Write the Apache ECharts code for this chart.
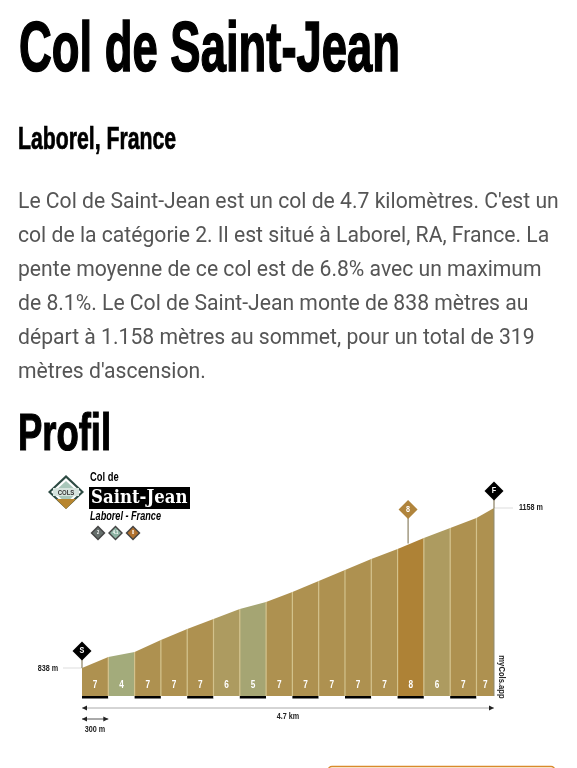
<!DOCTYPE html>
<html><head><meta charset="utf-8">
<style>html,body{margin:0;padding:0;background:#fff}#c{width:577px;height:768px}</style>
<script src="https://cdn.jsdelivr.net/npm/echarts@6/dist/echarts.min.js"></script></head>
<body><div id="c"></div>
<script>
const pageTitle = "Col de Saint-Jean";
const subTitle = "Laborel, France";
const bodyLines = [
 "Le Col de Saint-Jean est un col de 4.7 kilomètres. C'est un",
 "col de la catégorie 2. Il est situé à Laborel, RA, France. La",
 "pente moyenne de ce col est de 6.8% avec un maximum",
 "de 8.1%. Le Col de Saint-Jean monte de 838 mètres au",
 "départ à 1.158 mètres au sommet, pour un total de 319",
 "mètres d'ascension."
];
const profileTitle = "Profil";
const kmMarks = [0,0.3,0.6,0.9,1.2,1.5,1.8,2.1,2.4,2.7,3.0,3.3,3.6,3.9,4.2,4.5,4.7];
const elevations = [838,860,870,894,916,936,956,970,990,1012,1034,1056,1076,1098,1118,1138,1158];
const gradients = [7,4,7,7,7,6,5,7,7,7,7,7,8,6,7,7];
const gradeColors = {4:"#a3ab7b",5:"#a5a573",6:"#ad9b60",7:"#ae9150",8:"#ae8236"};
const flags = [
 {label:"S",km:0,elev:838,color:"#000"},
 {label:"8",km:3.72,elev:1087,color:"#b0843c"},
 {label:"F",km:4.7,elev:1158,color:"#000"}
];
const flagRise = [17,34,17];
const startLabel = "838 m", endLabel = "1158 m", lengthLabel = "4.7 km", stepLabel = "300 m", brand = "myCols.app";
const logoLines = ["Col de","Saint-Jean","Laborel - France"];
const logoBadges = [{t:"2",c:"#666f6c"},{t:"4.1",c:"#8db3a3"},{t:"8",c:"#b0712f"}];

const SANS = '"Liberation Sans",sans-serif';
const mctx = document.createElement('canvas').getContext('2d');
const fit = (text,font,w) => { mctx.font=font; return w/mctx.measureText(text).width; };
const txt = (x,y,text,o) => ({type:'text',x,y,scaleX:o.sx||1,silent:true,style:{text,fill:o.fill||'#000',font:o.font,textVerticalAlign:'middle',textAlign:o.align||'left',stroke:o.stroke||undefined,lineWidth:o.lw||0}});
const dia = (cx,cy,hw,hh,fill) => ({type:'polygon',silent:true,shape:{points:[[cx,cy-hh],[cx+hw,cy],[cx,cy+hh],[cx-hw,cy]]},style:{fill}});
const headFit = (x,y,text,size,w,lw) => { const font='bold '+size+'px '+SANS; return txt(x,y,text,{font,sx:fit(text,font,w),stroke:'#000',lw}); };

const graphics = [
 headFit(19,51.5,pageTitle,71,381,1.6),
 headFit(18,140,subTitle,31,158,0.7),
 headFit(18,436,profileTitle,52,93,1.2),
 ...bodyLines.map((l,i)=>txt(18,203+i*33.85,l,{font:'21.15px Roboto',fill:'#555'})),
 dia(66,492,18,17,'#2c4a42'), dia(66,492,15,14,'#fff'), dia(66,492,12,11,'#a9c7ba'),
 {type:'polygon',silent:true,shape:{points:[[56,499],[76,499],[66,509]]},style:{fill:'#b8862f'}},
 {type:'rect',silent:true,shape:{x:53,y:488,width:26,height:8},style:{fill:'#d7e4de'}},
 txt(66,492.5,'COLS',{font:'bold 8px '+SANS,fill:'#333',align:'center',sx:0.75}),
 txt(90,478,logoLines[0],{font:'bold 12px '+SANS,sx:0.78}),
 {type:'rect',silent:true,shape:{x:89,y:487,width:101,height:22},style:{fill:'#000'}},
 txt(91,498,logoLines[1],{font:'bold 19px "DejaVu Serif"',fill:'#fff',sx:0.87}),
 txt(90,517,logoLines[2],{font:'italic bold 12px '+SANS,sx:0.76}),
 ...logoBadges.flatMap((b,i)=>{const x=98+i*17.5;return [dia(x,533,7.5,7.5,'#444'),dia(x,533,5.5,5.5,b.c),txt(x,533,b.t,{font:'bold 5px '+SANS,fill:'#fff',align:'center',sx:0.8})];}),
 {type:'rect',silent:true,shape:{x:328,y:766.5,width:227,height:20,r:4},style:{fill:'#fff',stroke:'#d98a2b',lineWidth:1.5}}
];

function renderSeg(p,api){
 const i=api.value(0);
 const a=api.coord([kmMarks[i],elevations[i]]), b=api.coord([kmMarks[i+1],elevations[i+1]]);
 const a0=api.coord([kmMarks[i],782]), b0=api.coord([kmMarks[i+1],782]);
 const g=gradients[i], mid=(a0[0]+b0[0])/2, ch=[];
 ch.push({type:'polygon',shape:{points:[a,b,b0,a0]},style:{fill:gradeColors[g]}});
 if(i>0) ch.push({type:'line',shape:{x1:a[0],y1:a[1],x2:a0[0],y2:a0[1]},style:{stroke:'#d3c28c',lineWidth:1.2}});
 ch.push({type:'text',x:mid,y:a0[1]-11,scaleX:0.75,style:{x:0,y:0,text:String(g),fill:'#fff',font:'bold 11px '+SANS,textAlign:'center',textVerticalAlign:'middle'}});
 ch.push({type:'rect',shape:{x:a0[0],y:a0[1],width:b0[0]-a0[0],height:2.5},style:{fill:i%2?'#fff':'#000'}});
 return {type:'group',children:ch};
}
function renderFlag(p,api){
 const i=api.value(0),f=flags[i],pt=api.coord([f.km,f.elev]),cy=pt[1]-flagRise[i];
 return {type:'group',children:[
  {type:'line',shape:{x1:pt[0],y1:pt[1],x2:pt[0],y2:cy},style:{stroke:'#8b8062',lineWidth:1.2}},
  {type:'polygon',shape:{points:[[pt[0],cy-9.5],[pt[0]+9.5,cy],[pt[0],cy+9.5],[pt[0]-9.5,cy]]},style:{fill:f.color}},
  {type:'text',x:pt[0],y:cy,scaleX:0.8,style:{x:0,y:0,text:f.label,fill:'#fff',font:'bold 9px '+SANS,textAlign:'center',textVerticalAlign:'middle'}}
 ]};
}
function renderNotes(p,api){
 const base=api.coord([0,782])[1], s=api.coord([0,elevations[0]]), e=api.coord([4.7,elevations[16]]), step=api.coord([0.3,782])[0];
 const small='bold 9px '+SANS;
 const arrow=(x,y,dir)=>({type:'polygon',shape:{points:[[x,y],[x+dir*5,y-2.5],[x+dir*5,y+2.5]]},style:{fill:'#222'}});
 const label=(x,y,text,al)=>({type:'text',x,y,scaleX:0.8,style:{x:0,y:0,text,fill:'#222',font:small,textAlign:al,textVerticalAlign:'middle'}});
 return {type:'group',children:[
  {type:'line',shape:{x1:63,y1:s[1],x2:s[0],y2:s[1]},style:{stroke:'#ddd',lineWidth:1}},
  {type:'line',shape:{x1:e[0],y1:e[1],x2:513,y2:e[1]},style:{stroke:'#ddd',lineWidth:1}},
  {type:'line',shape:{x1:e[0],y1:e[1],x2:e[0],y2:base},style:{stroke:'#8f8a70',lineWidth:1}},
  label(48,s[1]+.5,startLabel,'center'),
  label(519,e[1],endLabel,'left'),
  {type:'line',shape:{x1:s[0],y1:base+12,x2:e[0],y2:base+12},style:{stroke:'#aaa',lineWidth:1}},
  arrow(s[0],base+12,1),arrow(e[0],base+12,-1),
  label(288,base+21,lengthLabel,'center'),
  {type:'line',shape:{x1:s[0],y1:base+23,x2:step,y2:base+23},style:{stroke:'#555',lineWidth:1}},
  arrow(s[0],base+23,1),arrow(step,base+23,-1),
  label(95,base+34,stepLabel,'center'),
  {type:'text',x:501,y:677,rotation:-Math.PI/2,scaleX:0.85,style:{x:0,y:0,text:brand,fill:'#222',font:small,textAlign:'center',textVerticalAlign:'middle'}}
 ]};
}
const chart=echarts.init(document.getElementById('c'),null,{renderer:'canvas'});
chart.setOption({
 animation:false,backgroundColor:'#fff',
 grid:{left:82,right:83,top:508,bottom:72},
 xAxis:{type:'value',min:0,max:4.7,show:false},
 yAxis:{type:'value',min:782,max:1158,show:false},
 graphic:graphics,
 series:[
  {type:'custom',silent:true,clip:false,renderItem:renderSeg,encode:{x:1,y:2},data:gradients.map((g,i)=>[i,kmMarks[i],elevations[i]])},
  {type:'custom',silent:true,clip:false,renderItem:renderNotes,data:[[0]],encode:{x:0,y:-1},z:3},
  {type:'custom',silent:true,clip:false,renderItem:renderFlag,encode:{x:1,y:2},data:flags.map((f,i)=>[i,f.km,f.elev]),z:4}
 ]
});
</script></body></html>
